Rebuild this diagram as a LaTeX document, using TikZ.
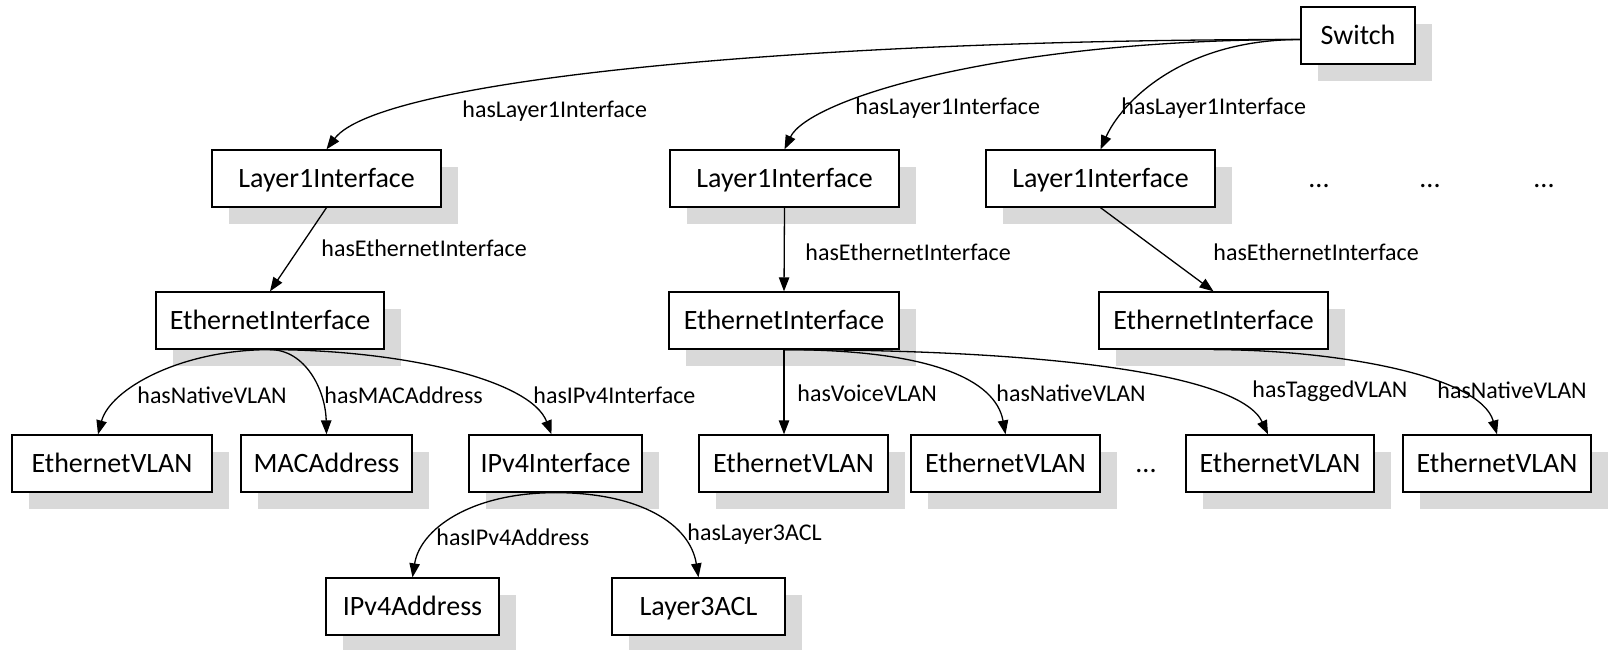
\documentclass[tikz,border=0pt]{standalone}
\usepackage{fontspec}
\setmainfont{Carlito}
\usetikzlibrary{arrows.meta,shadows}
\definecolor{shadowgray}{RGB}{217,217,217}
\tikzset{
  box/.style={draw, line width=0.65pt, fill=white, minimum height=28.5pt,
    inner sep=0pt, text height=9.5pt, text depth=1pt,
    font=\fontsize{14}{16}\selectfont,
    drop shadow={shadow xshift=8.5pt, shadow yshift=-8.5pt, fill=shadowgray, opacity=1}},
  rel/.style={line width=0.65pt, -{Triangle[length=7pt,width=5.2pt]}},
  lbl/.style={anchor=west, inner sep=0pt, font=\fontsize{12}{14}\selectfont},
  more/.style={anchor=base, inner sep=0pt, font=\fontsize{14}{16}\selectfont}
}
\begin{document}
\begin{tikzpicture}[x=0.5pt, y=-0.5pt]
\useasboundingbox (0,0) rectangle (1610,649);

% ---- nodes ----
\node[box, minimum width=57pt]    (sw)  at (1358,35.5)  {Switch};
\node[box, minimum width=114.5pt] (l1a) at (326.5,178.5) {Layer1Interface};
\node[box, minimum width=114.5pt] (l1b) at (784.5,178.5) {Layer1Interface};
\node[box, minimum width=114.5pt] (l1c) at (1100.5,178.5) {Layer1Interface};
\node[more] (d1) at (1319,187) {...};
\node[more] (d2) at (1430,187) {...};
\node[more] (d3) at (1544,187) {...};

\node[box, minimum width=114pt]   (eia) at (270,320.5)   {EthernetInterface};
\node[box, minimum width=115pt]   (eib) at (784,320.5)   {EthernetInterface};
\node[box, minimum width=114.5pt] (eic) at (1213.5,320.5) {EthernetInterface};

\node[box, minimum width=100pt]   (va)  at (112,463.5)   {EthernetVLAN};
\node[box, minimum width=85.5pt]  (mac) at (326.5,463.5) {MACAddress};
\node[box, minimum width=86.5pt]  (ipi) at (555.5,463.5) {IPv4Interface};
\node[box, minimum width=94.5pt]  (vb1) at (793.5,463.5) {EthernetVLAN};
\node[box, minimum width=94.5pt]  (vb2) at (1005.5,463.5) {EthernetVLAN};
\node[more] (d4) at (1146,472) {...};
\node[box, minimum width=94pt]    (vb3) at (1280,463.5)  {EthernetVLAN};
\node[box, minimum width=94pt]    (vc)  at (1497,463.5)  {EthernetVLAN};

\node[box, minimum width=86.5pt]  (ipa) at (412.5,606.5) {IPv4Address};
\node[box, minimum width=86.5pt]  (acl) at (698.5,606.5) {Layer3ACL};

% ---- Switch to its interfaces ----
\draw[rel] ([yshift=-2pt]sw.west) .. controls +(-501,0) and +(53,-70) .. (l1a.north);
\draw[rel] ([yshift=-2pt]sw.west) .. controls +(-301,0) and +(24,-50) .. (l1b.north);
\draw[rel] ([yshift=-2pt]sw.west) .. controls +(-121,0) and +(20,-45) .. (l1c.north);
\node[lbl] (t1) at (462,111) {hasLayer1Interface};
\node[lbl] (t2) at (855,108) {hasLayer1Interface};
\node[lbl] (t3) at (1121,108) {hasLayer1Interface};

% ---- Layer 1 to Ethernet ----
\draw[rel] (l1a.south) -- (eia.north);
\draw[rel] (l1b.south) -- (eib.north);
\draw[rel] (l1c.south) -- (eic.north);
\node[lbl] (t4) at (321,248) {hasEthernetInterface};
\node[lbl] (t5) at (805,252) {hasEthernetInterface};
\node[lbl] (t6) at (1213,252) {hasEthernetInterface};

% ---- left Ethernet interface ----
\draw[rel] (eia.south) .. controls +(-90,0) and +(12,-45) .. ([xshift=-7pt]va.north);
\draw[rel] (eia.south) .. controls +(35,0) and +(-1,-45) .. (mac.north);
\draw[rel] (eia.south) .. controls +(130,0) and +(-21,-55) .. ([xshift=-2pt]ipi.north);
\node[lbl] (t7) at (137,395) {hasNativeVLAN};
\node[lbl] (t8) at (324,395) {hasMACAddress};
\node[lbl] (t9) at (533,395) {hasIPv4Interface};

% ---- middle Ethernet interface ----
\draw[rel] (eib.south) -- (eib.south |- vb1.north);
\draw[rel] (eib.south) .. controls +(146,0) and +(-10,-55) .. (vb2.north);
\draw[rel] (eib.south) .. controls +(266,0) and +(-28,-60) .. ([xshift=-6pt]vb3.north);
\node[lbl] (t10) at (797,393) {hasVoiceVLAN};
\node[lbl] (t11) at (996,393) {hasNativeVLAN};
\node[lbl] (t12) at (1252,391) {hasTaggedVLAN};

% ---- right Ethernet interface ----
\draw[rel] (eic.south) .. controls +(117,0) and +(-17,-60) .. (vc.north);
\node[lbl] (t13) at (1437,390) {hasNativeVLAN};

% ---- IPv4 interface ----
\draw[rel] (ipi.south) .. controls +(-85,0) and +(7.5,-48) .. (ipa.north);
\draw[rel] (ipi.south) .. controls +(85,0) and +(-8.5,-53) .. (acl.north);
\node[lbl] (t14) at (436,537) {hasIPv4Address};
\node[lbl] (t15) at (687,534) {hasLayer3ACL};
\end{tikzpicture}
\end{document}
